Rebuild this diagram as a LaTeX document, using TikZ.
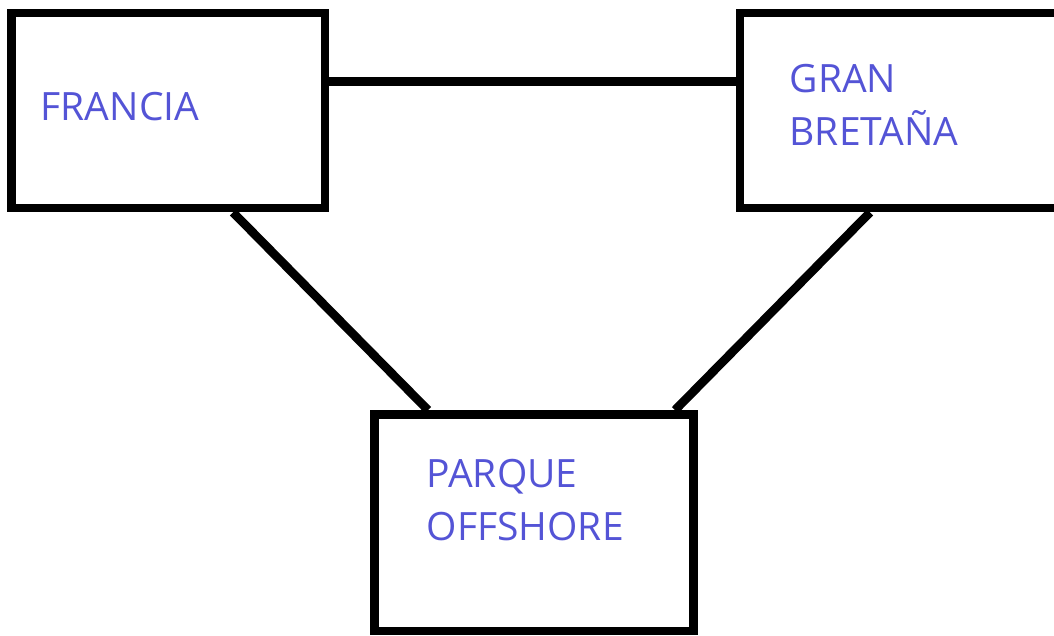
\documentclass[tikz,border=0pt]{standalone}
\usepackage{fontspec}
\setmainfont{Open Sans}
\definecolor{lblblue}{RGB}{84,84,214}
\begin{document}
\begin{tikzpicture}[x=1pt,y=-1pt,
  box/.style={draw=black, line width=8.7pt, inner sep=0pt},
  lbl/.style={text=lblblue, font=\fontsize{39}{53}\selectfont, inner sep=0pt, anchor=base west, align=left},
  link/.style={draw=black, line width=8.7pt}]
\clip (0,0) rectangle (1054,635);
\node[box, minimum width=313.5pt, minimum height=195pt] (fr) at (168.25,110.5) {};
\node[box, minimum width=318pt, minimum height=195pt] (gb) at (899,110.5) {};
\node[box, minimum width=319pt, minimum height=216.5pt] (pq) at (534,522.75) {};
\draw[link] (fr.east |- 0,81.5) -- (gb.west |- 0,81.5);
\draw[link] (fr.south -| 233,0) -- (pq.north -| 428,0);
\draw[link] (gb.south -| 870,0) -- (pq.north -| 675,0);
\node[lbl] (t1) at (40.5,120.7) {FRANCIA};
\node[lbl] (t2) at (789.5,145) {GRAN\\BRETAÑA};
\node[lbl] (t3) at (426.5,540.7) {PARQUE\\OFFSHORE};
\end{tikzpicture}
\end{document}
